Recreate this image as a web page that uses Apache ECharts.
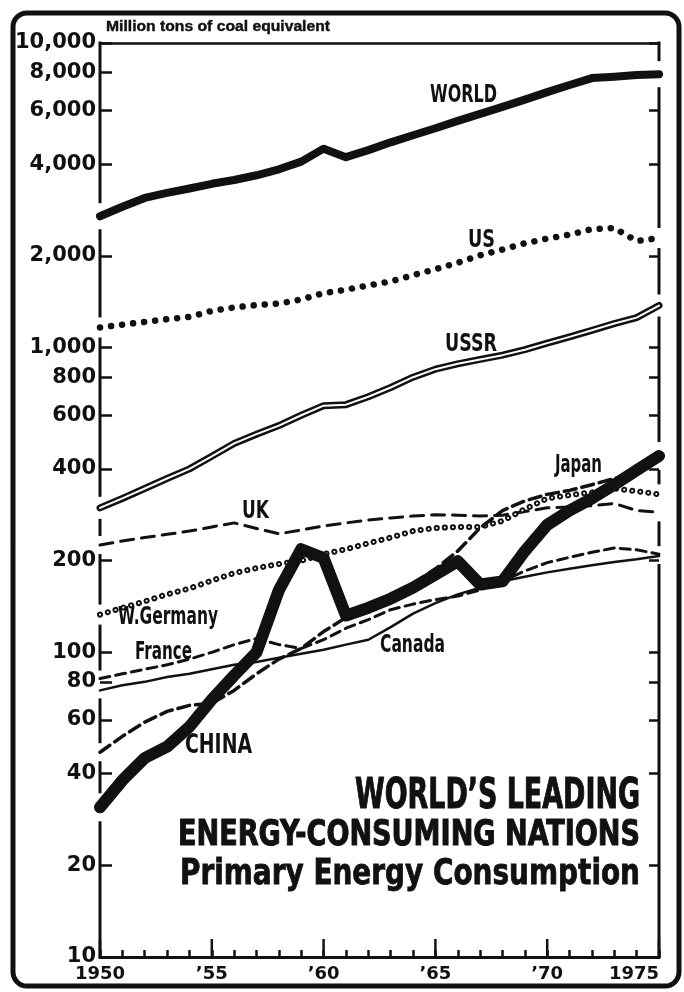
<!DOCTYPE html>
<html>
<head>
<meta charset="utf-8">
<script src="https://cdn.jsdelivr.net/npm/echarts@6/dist/echarts.min.js"></script>
<style>
html,body{margin:0;padding:0;background:#fff}
#chart{width:684px;height:992px}
</style>
</head>
<body>
<div id="chart"></div>
<script>
// Primary energy consumption, million tons of coal equivalent
const years = [1950,1951,1952,1953,1954,1955,1956,1957,1958,1959,1960,1961,1962,
               1963,1964,1965,1966,1967,1968,1969,1970,1971,1972,1973,1974,1975];

const world     = [2700,2900,3100,3220,3330,3450,3550,3680,3850,4080,4500,4220,4450,
                   4720,4980,5250,5550,5850,6170,6520,6900,7280,7670,7750,7850,7900];
const us        = [1165,1190,1215,1240,1262,1320,1355,1380,1395,1440,1510,1550,1600,
                   1650,1730,1810,1900,2010,2100,2200,2280,2350,2450,2470,2240,2290];
const ussr      = [298,320,345,372,400,440,485,520,555,600,645,650,690,
                   740,800,850,885,915,945,985,1035,1085,1140,1200,1255,1375];
const uk        = [225,232,238,244,250,258,266,255,245,252,260,266,272,
                   276,280,283,282,280,282,290,298,300,303,308,292,288];
const wGermany  = [133,140,147,155,162,172,182,189,195,200,210,218,228,
                   238,250,256,258,258,270,295,320,328,335,345,338,330];
const france    = [82,85,88,91,95,100,106,111,106,103,110,120,128,
                   138,144,149,153,160,171,185,197,205,213,220,217,210];
const japan     = [47,53,59,64,67,68,75,85,95,103,117,130,142,
                   155,168,188,215,256,292,314,330,340,355,372,390,432];
const canada    = [75,78,80,83,85,88,91,93,96,99,102,106,110,
                   121,134,145,155,163,171,177,183,188,193,198,202,207];
const china     = [31,38,45,49,57,70,84,100,160,218,204,132,140,
                   150,163,180,199,167,171,215,262,292,320,355,396,441];

const yTickValues = [10,20,40,60,80,100,200,400,600,800,1000,2000,4000,6000,8000,10000];
const xMajorYears = [1950,1955,1960,1965,1970,1975];

const INK = '#111';
const pairs = arr => years.map((y, i) => [y, arr[i]]);

function lineSeries(name, arr, style, z) {
  return {
    name, type: 'line', data: pairs(arr), showSymbol: false, symbol: 'none',
    smooth: false, silent: true, z: z,
    lineStyle: Object.assign({color: INK, cap: 'round', join: 'round'}, style)
  };
}

// series drawn on the chart; `gap` is the half-height of the break left
// in the side axes where a line meets them
const lines = [
  {arr: canada,   gap: 8,  series: [lineSeries('Canada', canada, {width: 2.5}, 21)]},
  {arr: france,   gap: 8,  series: [lineSeries('France', france, {width: 3, type: [10, 6]}, 21)]},
  {arr: uk,       gap: 9,  series: [lineSeries('UK', uk, {width: 3, type: [13, 8]}, 21)]},
  {arr: wGermany, gap: 10, series: [
      lineSeries('W.Germany', wGermany, {width: 6, type: [0.1, 8]}, 21),
      lineSeries('W.Germany', wGermany, {width: 2, type: [0.1, 8], color: '#fff'}, 22)]},
  {arr: japan,    gap: 9,  series: [lineSeries('Japan', japan, {width: 3.5, type: [12, 6]}, 23)]},
  {arr: china,    gap: 14, series: [lineSeries('China', china, {width: 12}, 22)]},
  {arr: ussr,     gap: 11, series: [
      lineSeries('USSR', ussr, {width: 7}, 21),
      lineSeries('USSR', ussr, {width: 2, color: '#fff'}, 22)]},
  {arr: us,       gap: 10, series: [lineSeries('US', us, {width: 6.5, type: [0.1, 11]}, 21)]},
  {arr: world,    gap: 13, series: [lineSeries('World', world, {width: 8}, 21)]}
];

// width-fitted condensed text for series names and the title block
const measureCtx = document.createElement('canvas').getContext('2d');
const NARROW = '"Liberation Sans Narrow", "DejaVu Sans Condensed", "Liberation Sans", sans-serif';
function fitText(text, x, y, size, width, align, family, heavy) {
  const fam = family || NARROW;
  measureCtx.font = 'bold ' + size + 'px ' + fam;
  const s = width / measureCtx.measureText(text).width;
  const style = {text, fontSize: size, fontFamily: fam, fontWeight: 'bold', fill: INK,
                 textAlign: align || 'left', textVerticalAlign: 'middle'};
  if (heavy) { style.stroke = INK; style.lineWidth = heavy; }
  return {type: 'text', x, y, scaleX: s, z: 100, silent: true, style};
}

const chart = echarts.init(document.getElementById('chart'), null, {renderer: 'canvas'});

const hiddenLine = {show: false, lineStyle: {color: 'rgba(0,0,0,0)', width: 0}};

const option = {
  animation: false,
  backgroundColor: '#fff',
  grid: {left: 100, right: 25, top: 43, bottom: 35, containLabel: false},
  xAxis: [{
    type: 'value', min: 1950, max: 1975, interval: 5, position: 'bottom',
    axisLine: {show: true, onZero: false, lineStyle: {color: INK, width: 3}},
    axisTick: {show: true, inside: true, length: 7, customValues: years,
               lineStyle: {color: INK, width: 2.5}},
    minorTick: {show: false},
    splitLine: {show: false},
    axisLabel: {
      margin: 8, color: INK, fontFamily: 'DejaVu Sans', fontWeight: 'bold', fontSize: 18,
      alignMaxLabel: 'right',
      formatter: v => (v === 1950 || v === 1975) ? String(v) : '\u2019' + String(v).slice(2)
    }
  }, {
    type: 'value', min: 1950, max: 1975, position: 'top',
    axisLine: {show: true, onZero: false, lineStyle: {color: INK, width: 2.5}},
    axisTick: {show: false}, axisLabel: {show: false}, splitLine: {show: false}
  }],
  yAxis: [{
    type: 'log', logBase: 10, min: 10, max: 10000, position: 'left',
    axisLine: hiddenLine,
    axisTick: {show: true, inside: true, length: 12, customValues: yTickValues,
               lineStyle: {color: INK, width: 2.5}},
    minorTick: {show: false},
    splitLine: {show: false},
    axisLabel: {
      customValues: yTickValues, margin: 4, color: INK,
      fontFamily: 'DejaVu Sans', fontWeight: 'bold', fontSize: 21,
      formatter: v => Math.round(v).toLocaleString('en-US')
    }
  }, {
    type: 'log', logBase: 10, min: 10, max: 10000, position: 'right',
    axisLine: hiddenLine,
    axisTick: {show: true, inside: true, length: 10, customValues: yTickValues,
               lineStyle: {color: INK, width: 2.5}},
    minorTick: {show: false}, splitLine: {show: false}, axisLabel: {show: false}
  }],
  series: lines.flatMap(l => l.series),
  graphic: [
    {type: 'rect', z: 0, silent: true,
     shape: {x: 13, y: 13, width: 666, height: 973, r: 14},
     style: {fill: 'none', stroke: INK, lineWidth: 5}},
    fitText('Million tons of coal equivalent', 106, 27, 14, 224, 'left',
            '"Liberation Sans", Arial, sans-serif', 0.4),
    fitText('WORLD', 430, 96, 24, 67),
    fitText('US', 468, 241, 24, 27),
    fitText('USSR', 445, 345, 24, 52),
    fitText('UK', 242, 512, 24, 27),
    fitText('Japan', 555, 466, 24, 47),
    fitText('W.Germany', 118, 618, 24, 100),
    fitText('France', 135, 653, 24, 57),
    fitText('Canada', 380, 646, 24, 65),
    fitText('CHINA', 185, 746, 26, 67),
    fitText('WORLD\u2019S LEADING', 640, 797, 42, 285, 'right', null, 1),
    fitText('ENERGY-CONSUMING NATIONS', 640, 836, 35, 462, 'right', null, 1),
    fitText('Primary Energy Consumption', 640, 875, 35, 460, 'right', null, 0.8)
  ]
};

chart.setOption(option);

const toPx = (x, y) => chart.convertToPixel({gridIndex: 0}, [x, y]);
const extra = [];

// taller ticks every five years on the year axis
xMajorYears.forEach(yr => {
  const p = toPx(yr, 10);
  extra.push({type: 'line', z: 12, silent: true,
              shape: {x1: p[0], y1: p[1], x2: p[0], y2: p[1] - 18},
              style: {stroke: INK, lineWidth: 2.5}});
});

// side axes, broken where each line starts (left) or ends (right)
const yTop = toPx(years[0], 10000)[1];
const yBottom = toPx(years[0], 10)[1];
[0, years.length - 1].forEach(i => {
  const x = toPx(years[i], 10)[0];
  const cuts = lines.map(l => {
    const y = toPx(years[i], l.arr[i])[1];
    return [y - l.gap, y + l.gap];
  }).sort((a, b) => a[0] - b[0]);
  let start = yTop - 1.5;
  cuts.forEach(c => {
    if (c[0] > start) {
      extra.push({type: 'line', z: 12, silent: true,
                  shape: {x1: x, y1: start, x2: x, y2: c[0]},
                  style: {stroke: INK, lineWidth: 3}});
    }
    start = Math.max(start, c[1]);
  });
  extra.push({type: 'line', z: 12, silent: true,
              shape: {x1: x, y1: start, x2: x, y2: yBottom + 1.5},
              style: {stroke: INK, lineWidth: 3}});
});

chart.setOption({graphic: [{elements: option.graphic.concat(extra)}]});
</script>
</body>
</html>
